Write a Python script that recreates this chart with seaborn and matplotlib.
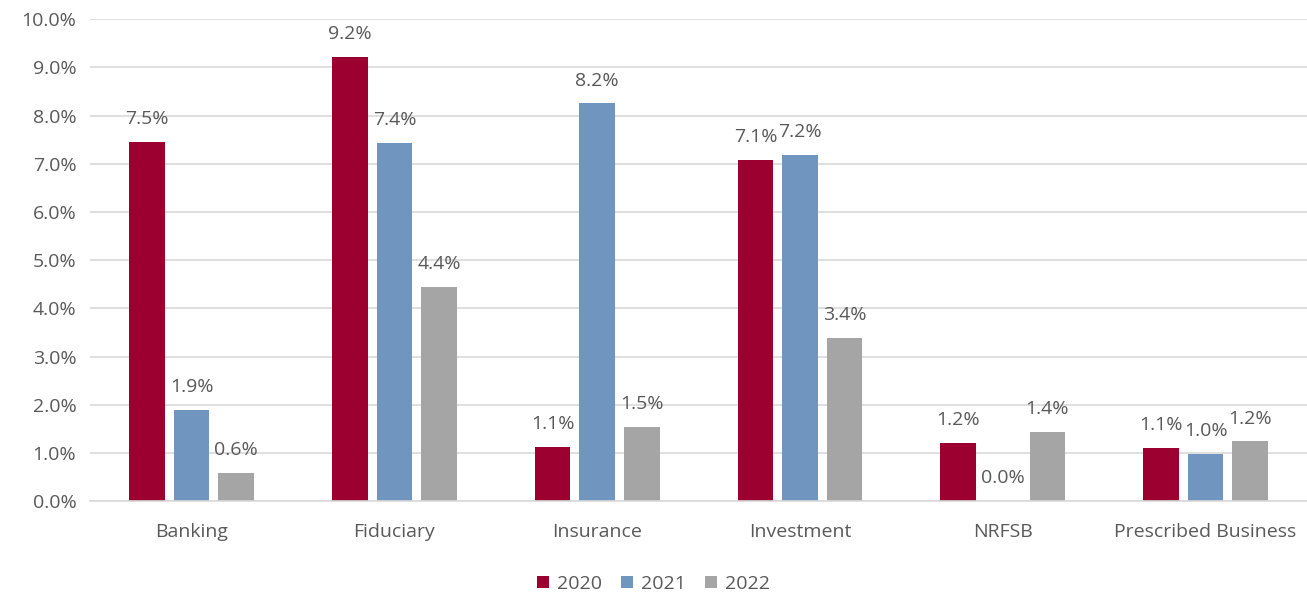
import matplotlib
matplotlib.use("Agg")
import matplotlib.pyplot as plt
import seaborn as sns
import pandas as pd
from matplotlib.patches import Patch

categories = ["Banking", "Fiduciary", "Insurance", "Investment", "NRFSB", "Prescribed Business"]
years = ["2020", "2021", "2022"]
v2020 = [7.46, 9.22, 1.12, 7.07, 1.20, 1.10]
v2021 = [1.90, 7.43, 8.25, 7.19, 0.0, 0.98]
v2022 = [0.58, 4.44, 1.54, 3.38, 1.43, 1.24]
colors = ["#9B0030", "#7096C0", "#A5A5A5"]

rows = []
for yr, vals in zip(years, [v2020, v2021, v2022]):
    for c, v in zip(categories, vals):
        rows.append({"Category": c, "Year": yr, "Value": v})
df = pd.DataFrame(rows)

sns.set_theme(style="white")
plt.rcParams['font.family'] = ['Open Sans', 'DejaVu Sans']
text_color = "#595959"

fig = plt.figure(figsize=(13.07, 5.96), dpi=100)
ax = fig.add_axes([0.069, 0.159, 0.931, 0.809])
sns.barplot(data=df, x="Category", y="Value", hue="Year", palette=colors,
            order=categories, hue_order=years, width=0.66, gap=0.2,
            saturation=1, ax=ax, legend=False, errorbar=None, linewidth=0)

for cont in ax.containers:
    ax.bar_label(cont, labels=[f"{b.get_height():.1f}%" for b in cont],
                 padding=10, fontsize=14, color=text_color)

ax.set_ylim(0, 10)
ax.set_xlim(-0.5, 5.5)
ax.set_yticks(range(0, 11))
ax.set_yticklabels([f"{t:.1f}%" for t in range(0, 11)])
ax.yaxis.grid(True, color="#D9D9D9", linewidth=1.2)
ax.set_axisbelow(True)
for s in ["top", "right", "left"]:
    ax.spines[s].set_visible(False)
ax.spines["bottom"].set_color("#D9D9D9")
ax.spines["bottom"].set_linewidth(1.2)
ax.tick_params(axis="both", length=0, labelsize=14, colors=text_color)
ax.tick_params(axis="x", pad=16)
ax.tick_params(axis="y", pad=10)
ax.set_xlabel("")
ax.set_ylabel("")

handles = [Patch(facecolor=c, edgecolor="none") for c in colors]
fig.legend(handles, years, loc="center", bbox_to_anchor=(0.5, 0.02), ncol=3,
           frameon=False, fontsize=14, handlelength=0.6, handleheight=0.6,
           handletextpad=0.4, columnspacing=1.0, labelcolor=text_color)

fig.savefig("out.png", dpi=100)
